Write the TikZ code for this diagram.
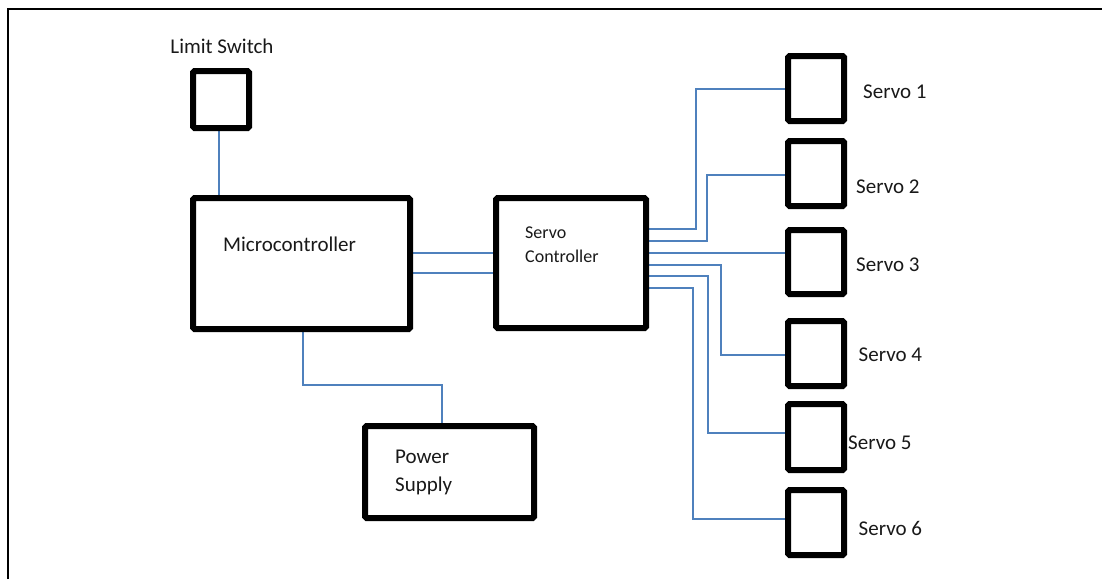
\documentclass[tikz,border=0pt]{standalone}
\usepackage{fontspec}
\setmainfont{Carlito}
\usetikzlibrary{backgrounds}
\definecolor{wireblue}{RGB}{79,129,189}
\definecolor{inkgray}{RGB}{25,25,25}
\tikzset{
  box/.style={draw=black, line width=6pt, rounded corners=1.5pt, inner sep=0pt, fill=none},
  wire/.style={draw=wireblue, line width=2pt},
  lbl/.style={inner sep=0pt, text=inkgray, font=\fontsize{21}{25}\selectfont},
  smalllbl/.style={inner sep=0pt, text=inkgray, font=\fontsize{18}{22}\selectfont},
}
\begin{document}
\begin{tikzpicture}[x=1pt, y=-1pt]
\useasboundingbox (0,0) rectangle (1102,579);

% page frame (top and left edges)
\draw[line width=2pt, black] (8,579) -- (8,9) -- (1102,9);

% blocks
\node[box, minimum width=56pt, minimum height=57pt] (ls) at (221,99.5) {};
\node[box, minimum width=217pt, minimum height=131pt] (mc) at (301.5,263.5) {};
\node[box, minimum width=150pt, minimum height=130pt] (sc) at (571,263) {};
\node[box, minimum width=169pt, minimum height=92pt] (ps) at (449.5,472) {};

\node[box, minimum width=56pt, minimum height=65pt] (s1) at (816,88.5) {};
\node[box, minimum width=56pt, minimum height=65pt] (s2) at (816,173.5) {};
\node[box, minimum width=56pt, minimum height=64pt] (s3) at (816,262) {};
\node[box, minimum width=56pt, minimum height=65pt] (s4) at (816,353.5) {};
\node[box, minimum width=56pt, minimum height=66pt] (s5) at (816,437) {};
\node[box, minimum width=56pt, minimum height=65pt] (s6) at (816,522.5) {};

% labels
\node[lbl, anchor=base] (lslbl) at (222,53.8) {Limit Switch};
\node[lbl, anchor=base west] (mclbl) at (223,251.8) {Microcontroller};
\node[smalllbl, anchor=base west] (sclbl1) at (525,238.5) {Servo};
\node[smalllbl, anchor=base west] (sclbl2) at (525,262.8) {Controller};
\node[lbl, anchor=base west] (pslbl1) at (395,463.3) {Power};
\node[lbl, anchor=base west] (pslbl2) at (395,491.7) {Supply};
\node[lbl, anchor=base west] (s1lbl) at (863,98.5) {Servo 1};
\node[lbl, anchor=base west] (s2lbl) at (856,193.5) {Servo 2};
\node[lbl, anchor=base west] (s3lbl) at (856,271.8) {Servo 3};
\node[lbl, anchor=base west] (s4lbl) at (858.5,361.8) {Servo 4};
\node[lbl, anchor=base west] (s5lbl) at (848,449.8) {Servo 5};
\node[lbl, anchor=base west] (s6lbl) at (858.5,535) {Servo 6};

% connection points
\coordinate (lsp) at (ls.south -| 219,0);
\coordinate (mct) at (mc.north -| 219,0);
\coordinate (mcb) at (mc.south -| 303,0);
\coordinate (pst) at (ps.north -| 442,0);
\coordinate (o1) at (sc.east |- 0,229.3);
\coordinate (o2) at (sc.east |- 0,241.3);
\coordinate (o3) at (sc.east |- 0,253.3);
\coordinate (o4) at (sc.east |- 0,264.6);
\coordinate (o5) at (sc.east |- 0,276.3);
\coordinate (o6) at (sc.east |- 0,288.3);
\coordinate (p1) at (s1.west |- 0,89.3);
\coordinate (p2) at (s2.west |- 0,175);
\coordinate (p3) at (s3.west |- 0,253.3);
\coordinate (p4) at (s4.west |- 0,355);
\coordinate (p5) at (s5.west |- 0,433.3);
\coordinate (p6) at (s6.west |- 0,519.3);

% white page and wiring, kept behind the block outlines
\begin{scope}[on background layer]
  \fill[white] (0,0) rectangle (1102,579);
  \draw[wire] (lsp) -- (mct);
  \draw[wire] (mc.east |- 0,253.3) -- (sc.west |- 0,253.3);
  \draw[wire] (mc.east |- 0,273.3) -- (sc.west |- 0,273.3);
  \draw[wire] (mcb) -- (mcb |- 0,385) -| (pst);
  \draw[wire] (o1) -- (o1 -| 696,0) |- (p1);
  \draw[wire] (o2) -- (o2 -| 707,0) |- (p2);
  \draw[wire] (o3) -- (p3);
  \draw[wire] (o4) -- (o4 -| 721,0) |- (p4);
  \draw[wire] (o5) -- (o5 -| 707.5,0) |- (p5);
  \draw[wire] (o6) -- (o6 -| 692.5,0) |- (p6);
\end{scope}
\end{tikzpicture}
\end{document}
